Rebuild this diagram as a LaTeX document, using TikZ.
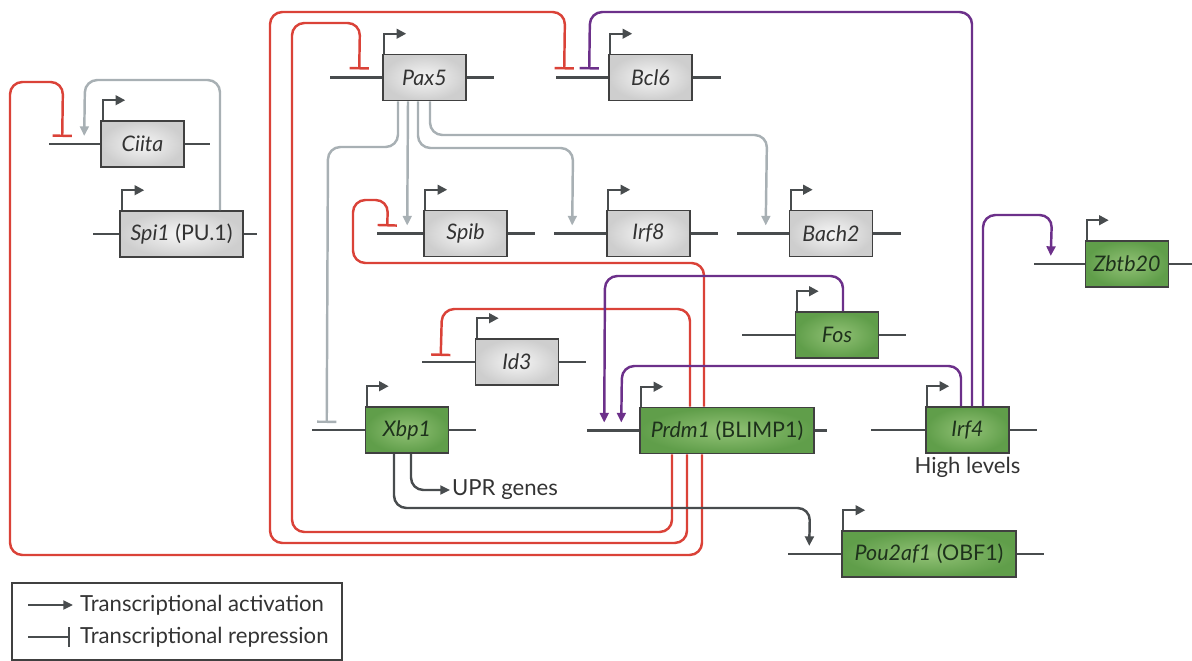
\documentclass[tikz,border=0pt]{standalone}
\usepackage{fontspec}
\setmainfont{Lato}
\usetikzlibrary{arrows.meta,calc}

\definecolor{repRed}{RGB}{218,66,56}
\definecolor{actPurple}{RGB}{108,48,138}
\definecolor{paxGrey}{RGB}{168,176,180}
\definecolor{darkGrey}{RGB}{72,76,78}
\definecolor{boxLine}{RGB}{64,64,64}
\definecolor{greenIn}{RGB}{146,194,118}
\definecolor{greenOut}{RGB}{96,158,74}
\definecolor{greenText}{RGB}{30,50,28}
\definecolor{greyIn}{RGB}{246,246,246}
\definecolor{greyOut}{RGB}{206,206,206}

\tikzset{
	gene/.style={draw=boxLine, line width=0.9pt, minimum width=1.66cm, minimum height=0.92cm, inner sep=1pt, font=\fontsize{12.2}{14}\selectfont},
	greygene/.style={gene, inner color=greyIn, outer color=greyOut, text=black!80},
	greengene/.style={gene, inner color=greenIn, outer color=greenOut, text=greenText},
	widegene/.style={minimum width=3.48cm},
	geneline/.style={draw=darkGrey, line width=1.6pt},
	promoter/.style={draw=darkGrey, line width=1.3pt, -{Triangle[length=5.5pt,width=5.5pt]}},
	act/.style={line width=1.4pt, rounded corners=7pt, -{Triangle[length=5.5pt,width=5pt]}},
	rep/.style={line width=1.4pt, rounded corners=7pt, -{Bar[width=11pt]}},
	txt/.style={inner sep=1pt, font=\fontsize{12.6}{15}\selectfont, text=black!80}
}

\begin{document}
\begin{tikzpicture}[x=0.02cm, y=-0.02cm]
	% Fix the size of the picture
	\useasboundingbox (0,0) rectangle (1192,661);
	
	% Grey genes
	\node[greygene] (ciita) at (142.5,144) {\textit{Ciita}};
	\node[greygene, minimum width=2.46cm] (spi1) at (181.5,234) {\textit{Spi1} (PU.1)};
	\node[greygene] (pax5) at (424.5,77.5) {\textit{Pax5}};
	\node[greygene] (bcl6) at (650.5,77.5) {\textit{Bcl6}};
	\node[greygene] (spib) at (465.5,233.5) {\textit{Spib}};
	\node[greygene] (irf8) at (648.5,233.5) {\textit{Irf8}};
	\node[greygene] (bach2) at (831,233.5) {\textit{Bach2}};
	\node[greygene] (id3) at (517,362) {\textit{Id3}};
	
	% Green genes
	\node[greengene] (zbtb20) at (1127,264) {\textit{Zbtb20}};
	\node[greengene] (fos) at (837,335) {\textit{Fos}};
	\node[greengene] (xbp1) at (407,430) {\textit{Xbp1}};
	\node[greengene, widegene] (prdm1) at (727,430.5) {\textit{Prdm1} (BLIMP1)};
	\node[greengene] (irf4) at (967.5,430) {\textit{Irf4}};
	\node[greengene, widegene] (pou2af1) at (929,554) {\textit{Pou2af1} (OBF1)};
	
	% Labels
	\node[txt, anchor=north] (irf4lvl) at ([yshift=-1pt]irf4.south) {High levels};
	\node[txt, anchor=west] (upr) at (450,490) {UPR genes};
	
	% DNA lines on both sides of each gene
	\draw[geneline] (ciita.west) -- ++(-51,0) (ciita.east) -- ++(25,0);
	\draw[geneline] (spi1.west) -- ++(-26,0) (spi1.east) -- ++(13,0);
	\draw[geneline] (pax5.west) -- ++(-52,0) (pax5.east) -- ++(27,0);
	\draw[geneline] (bcl6.west) -- ++(-52,0) (bcl6.east) -- ++(28,0);
	\draw[geneline] (spib.west) -- ++(-46,0) (spib.east) -- ++(27,0);
	\draw[geneline] (irf8.west) -- ++(-52,0) (irf8.east) -- ++(27,0);
	\draw[geneline] (bach2.west) -- ++(-52,0) (bach2.east) -- ++(28,0);
	\draw[geneline] (id3.west) -- ++(-53,0) (id3.east) -- ++(27,0);
	\draw[geneline] (zbtb20.west) -- ++(-51,0) (zbtb20.east) -- ++(26,0);
	\draw[geneline] (fos.west) -- ++(-53,0) (fos.east) -- ++(27,0);
	\draw[geneline] (xbp1.west) -- ++(-53,0) (xbp1.east) -- ++(27,0);
	\draw[geneline] (prdm1.west) -- ++(-52,0) (prdm1.east) -- ++(12,0);
	\draw[geneline] (irf4.west) -- ++(-54,0) (irf4.east) -- ++(27,0);
	\draw[geneline] (pou2af1.west) -- ++(-53,0) (pou2af1.east) -- ++(27,0);
	
	% Promoter arrows
	\draw[promoter] ($(ciita.north west)+(3,0)$) |- ++(22,-20);
	\draw[promoter] ($(spi1.north west)+(3,0)$) |- ++(22,-20);
	\draw[promoter] ($(pax5.north west)+(2,0)$) |- ++(22,-20);
	\draw[promoter] ($(bcl6.north west)+(2,0)$) |- ++(22,-20);
	\draw[promoter] ($(spib.north west)+(2,0)$) |- ++(22,-20);
	\draw[promoter] ($(irf8.north west)+(2,0)$) |- ++(22,-20);
	\draw[promoter] ($(bach2.north west)+(2,0)$) |- ++(22,-20);
	\draw[promoter] ($(id3.north west)+(2,0)$) |- ++(22,-20);
	\draw[promoter] ($(zbtb20.north west)+(2,0)$) |- ++(22,-20);
	\draw[promoter] ($(fos.north west)+(2,0)$) |- ++(22,-20);
	\draw[promoter] ($(xbp1.north west)+(2,0)$) |- ++(22,-20);
	\draw[promoter] ($(prdm1.north west)+(2,0)$) |- ++(22,-20);
	\draw[promoter] ($(irf4.north west)+(2,0)$) |- ++(22,-20);
	\draw[promoter] ($(pou2af1.north west)+(2,0)$) |- ++(22,-20);
	
	% PAX5 targets
	\draw[rep, paxGrey] ($(pax5.south)+(-26.5,0)$) |- (328,147) -- ($(xbp1.west)+(-38,-7)$);
	\draw[act, paxGrey] ($(pax5.south)+(-16.5,0)$) -- ($(spib.west)+(-16,-8)$);
	\draw[act, paxGrey] ($(pax5.south)+(-6.5,0)$) |- (573,148) -- ($(irf8.west)+(-34,-8)$);
	\draw[act, paxGrey] ($(pax5.south)+(5.5,0)$) |- (767,135) -- ($(bach2.west)+(-23,-8)$);
	\draw[act, paxGrey] ($(spi1.north)+(38.5,0)$) |- (85,80) -- ($(ciita.west)+(-16,-8)$);
	
	% BLIMP1 repression
	\draw[rep, repRed] ($(prdm1.south)+(-25,0)$) |- (10,555) |- (63,82) -- ($(ciita.west)+(-38,-7)$);
	\draw[rep, repRed] ($(prdm1.south)+(-40,0)$) |- (270,543) |- (565,12) -- ($(bcl6.west)+(-44,-8)$);
	\draw[rep, repRed] ($(prdm1.south)+(-55,0)$) |- (292,532) |- (360,23) -- ($(pax5.west)+(-23,-8)$);
	\draw[rep, repRed] ($(prdm1.north)+(-23,0)$) |- (353,263) |- (388,200) -- ($(spib.west)+(-36,-7)$);
	\draw[rep, repRed] ($(prdm1.north)+(-37,0)$) |- (442,309) -- ($(id3.west)+(-34,-6)$);
	
	% IRF4 and FOS
	\draw[act, actPurple] ($(fos.north)+(6,0)$) |- (605,276) -- ($(prdm1.west)+(-35,-8)$);
	\draw[act, actPurple] ($(irf4.north)+(-6.5,0)$) |- (622,366) -- ($(prdm1.west)+(-18,-8)$);
	\draw[rep, actPurple] ($(irf4.north)+(4.5,0)$) |- (590,12) -- ($(bcl6.west)+(-19,-8)$);
	\draw[act, actPurple] ($(irf4.north)+(15.5,0)$) |- (1052,215) -- ($(zbtb20.west)+(-34,-8)$);
	
	% XBP1 targets
	\draw[act, darkGrey] ($(xbp1.south)+(-13,0)$) |- (810,508) -- ($(pou2af1.west)+(-32,-8)$);
	\draw[act, darkGrey] ($(xbp1.south)+(4,0)$) |- (upr.west);
	
	% Legend
	\draw[draw=boxLine, line width=0.6pt] (12,583) rectangle (342,660);
	\node[txt, anchor=west] (actTxt) at (78,605) {Transcriptional activation};
	\node[txt, anchor=west] (repTxt) at (78,637) {Transcriptional repression};
	\draw[act, darkGrey] ($(actTxt.west)+(-50,0)$) -- ($(actTxt.west)+(-5,0)$);
	\draw[rep, darkGrey] ($(repTxt.west)+(-50,0)$) -- ($(repTxt.west)+(-8,0)$);
\end{tikzpicture}
\end{document}
